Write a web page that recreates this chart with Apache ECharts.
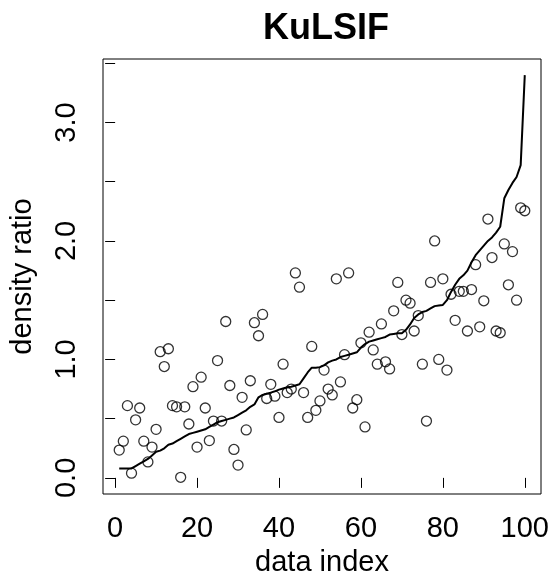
<!DOCTYPE html>
<html>
<head>
<meta charset="utf-8">
<script src="https://cdn.jsdelivr.net/npm/echarts@6/dist/echarts.min.js"></script>
<style>
  html, body { margin: 0; padding: 0; background: #fff; }
  #chart { width: 555px; height: 582px; }
</style>
</head>
<body>
<div id="chart"></div>
<script>
// Observed density ratio at each data index (circles)
const ratioPoints = [
    0.235, 0.31, 0.61, 0.04, 0.49, 0.59, 0.31, 0.135, 0.26, 0.41,
    1.065, 0.94, 1.09, 0.61, 0.60, 0.005, 0.60, 0.455, 0.77, 0.26,
    0.85, 0.59, 0.315, 0.48, 0.99, 0.48, 1.32, 0.78, 0.24, 0.108,
    0.68, 0.405, 0.82, 1.31, 1.20, 1.38, 0.67, 0.79, 0.69, 0.51,
    0.96, 0.72, 0.75, 1.73, 1.61, 0.72, 0.51, 1.11, 0.57, 0.65,
    0.91, 0.75, 0.70, 1.68, 0.81, 1.04, 1.73, 0.59, 0.66, 1.14,
    0.43, 1.23, 1.08, 0.96, 1.30, 0.98, 0.92, 1.41, 1.65, 1.21,
    1.50, 1.475, 1.24, 1.37, 0.96, 0.48, 1.65, 2.00, 1.00, 1.68,
    0.91, 1.55, 1.33, 1.575, 1.575, 1.24, 1.59, 1.80, 1.275, 1.495,
    2.185, 1.86, 1.24, 1.225, 1.975, 1.63, 1.91, 1.50, 2.28, 2.255
];

// KuLSIF estimate (solid line)
const kulsifLine = [
    0.08, 0.08, 0.08, 0.08, 0.10, 0.12, 0.14, 0.16, 0.19, 0.22,
    0.23, 0.25, 0.28, 0.29, 0.31, 0.33, 0.35, 0.37, 0.38, 0.39,
    0.40, 0.41, 0.43, 0.45, 0.47, 0.48, 0.49, 0.50, 0.51, 0.53,
    0.55, 0.57, 0.60, 0.62, 0.68, 0.70, 0.71, 0.72, 0.73, 0.745,
    0.755, 0.765, 0.77, 0.78, 0.79, 0.84, 0.89, 0.93, 0.93, 0.935,
    0.95, 0.975, 0.99, 1.00, 1.02, 1.03, 1.04, 1.05, 1.06, 1.10,
    1.13, 1.15, 1.16, 1.17, 1.18, 1.19, 1.21, 1.215, 1.22, 1.22,
    1.25, 1.295, 1.35, 1.38, 1.40, 1.41, 1.43, 1.45, 1.455, 1.46,
    1.50, 1.57, 1.63, 1.68, 1.71, 1.75, 1.82, 1.88, 1.92, 1.96,
    2.00, 2.03, 2.07, 2.12, 2.36, 2.43, 2.49, 2.54, 2.64, 3.40
];

const xTicks = [0, 20, 40, 60, 80, 100];
const yTicks = [0, 0.5, 1, 1.5, 2, 2.5, 3, 3.5];
const yLabels = [0, 1, 2, 3];

const FONT = "Liberation Sans, Arial, Helvetica, sans-serif";

const chart = echarts.init(document.getElementById("chart"));
chart.setOption({
    animation: false,
    backgroundColor: "#fff",
    title: {
        text: "KuLSIF",
        left: 321,
        textAlign: "center",
        top: 6,
        textStyle: { fontFamily: FONT, fontWeight: "bold", fontSize: 36, color: "#000" },
    },
    grid: {
        left: 101, right: 14, top: 59, bottom: 82,
        show: true, borderColor: "#000", borderWidth: 1, backgroundColor: "transparent",
    },
    xAxis: {
        type: "value",
        min: -2.96, max: 103.96,
        name: "data index",
        nameLocation: "middle",
        nameGap: 54,
        nameTextStyle: { fontFamily: FONT, fontSize: 29, color: "#000" },
        axisLine: { show: false },
        splitLine: { show: false },
        axisTick: { show: true, inside: false, length: 10, customValues: xTicks, lineStyle: { color: "#000" } },
        axisLabel: {
            customValues: xTicks, margin: 20,
            fontFamily: FONT, fontSize: 29, color: "#000",
            showMinLabel: true, showMaxLabel: true,
        },
    },
    yAxis: {
        type: "value",
        min: -0.136, max: 3.536,
        name: "density ratio",
        nameLocation: "middle",
        nameGap: 66,
        nameTextStyle: { fontFamily: FONT, fontSize: 29, color: "#000" },
        axisLine: { show: false },
        splitLine: { show: false },
        axisTick: { show: true, inside: false, length: 10, customValues: yTicks, lineStyle: { color: "#000" } },
        axisLabel: {
            customValues: yLabels, margin: 22, rotate: 90,
            fontFamily: FONT, fontSize: 29, color: "#000",
            formatter: (v) => v.toFixed(1),
        },
    },
    series: [
        {
            name: "points",
            type: "scatter",
            data: ratioPoints.map((v, i) => [i + 1, v]),
            symbol: "circle",
            symbolSize: 10,
            itemStyle: { color: "rgba(0,0,0,0)", borderColor: "#000", borderWidth: 1.3 },
            silent: true,
        },
        {
            name: "KuLSIF",
            type: "line",
            data: kulsifLine.map((v, i) => [i + 1, v]),
            showSymbol: false,
            lineStyle: { color: "#000", width: 2 },
            silent: true,
        },
    ],
});
</script>
</body>
</html>
